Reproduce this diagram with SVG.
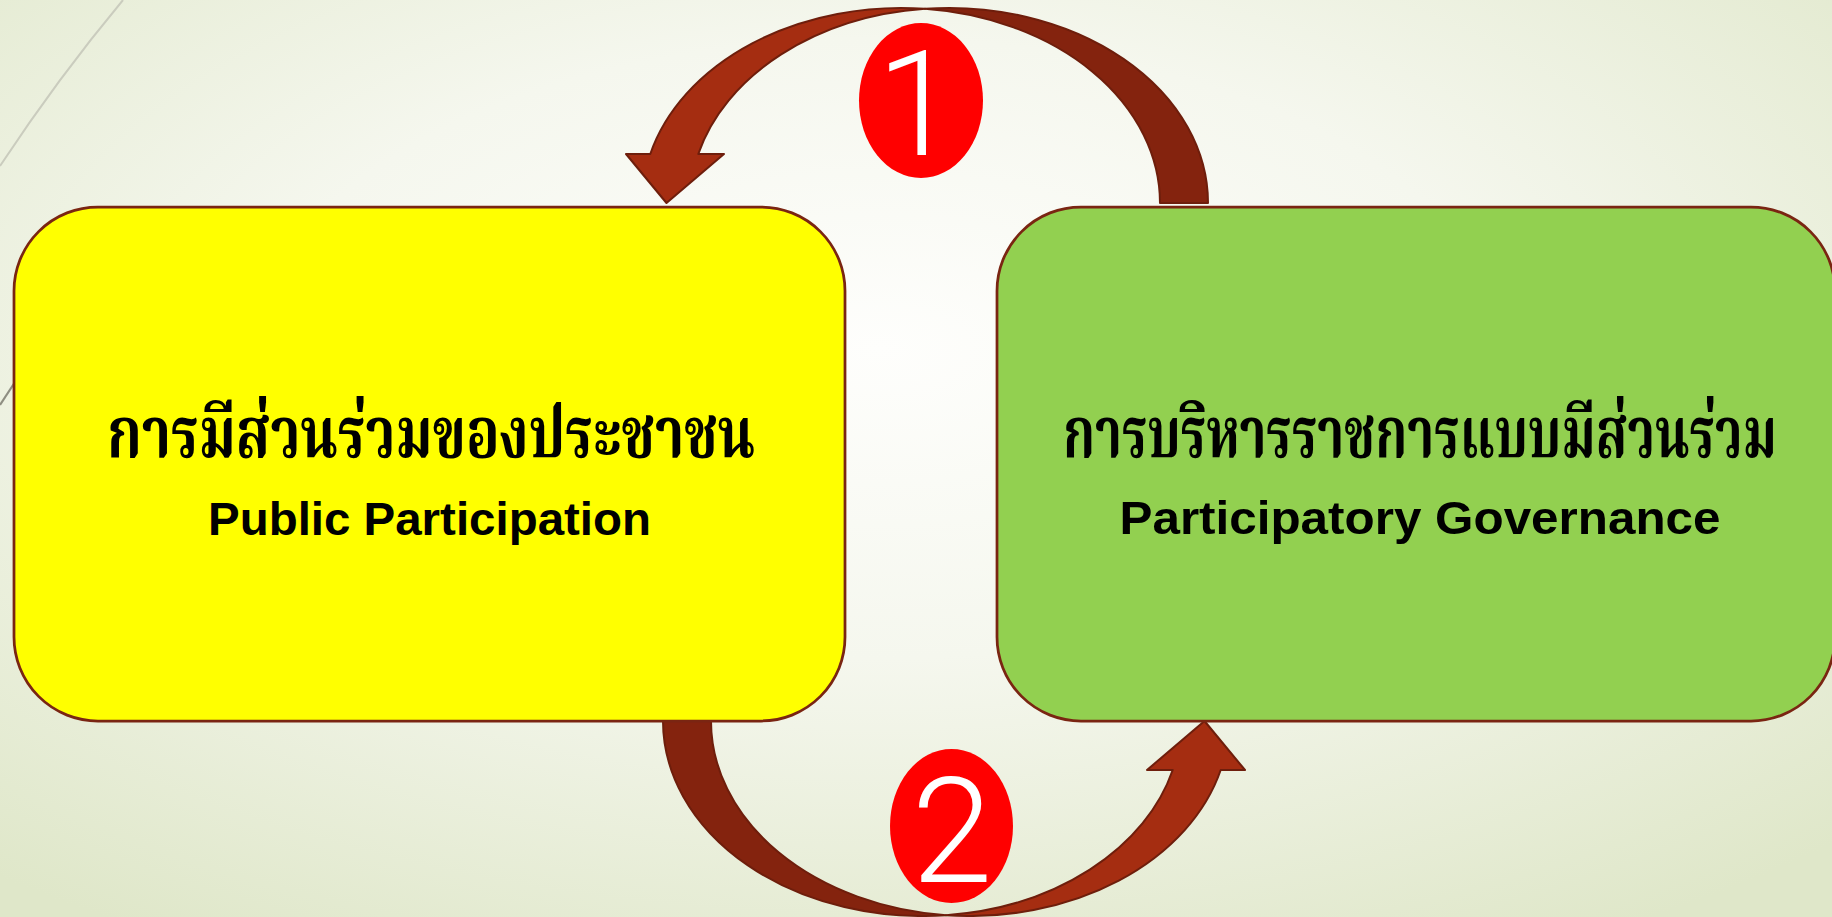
<svg xmlns="http://www.w3.org/2000/svg" width="1832" height="917" viewBox="0 0 1832 917">
  <defs>
    <radialGradient id="bg" cx="48%" cy="38%" r="75%" fx="48%" fy="38%">
      <stop offset="0" stop-color="#FEFEFC"/>
      <stop offset="0.45" stop-color="#F5F7EE"/>
      <stop offset="1" stop-color="#DFE7C9"/>
    </radialGradient>
    <style>
      .box { stroke: #7A2512; stroke-width: 2.75; }
      .th { font-family: "Noto Serif Thai", "Noto Sans Thai Looped", "Noto Sans Thai", "Noto Sans", "DejaVu Sans", sans-serif; font-weight: bold; font-size: 72px; fill: #000; text-anchor: middle; }
      .en { font-family: "Liberation Sans", Arial, sans-serif; font-weight: bold; font-size: 47px; fill: #000; text-anchor: middle; }
      .front { fill: #A52D11; stroke: #6E1E0C; stroke-width: 2; stroke-linejoin: round; }
      .back { fill: #84230E; stroke: #6E1E0C; stroke-width: 2; stroke-linejoin: round; }
      .badge { fill: #FF0000; }
      .num { font-family: Roboto, "Open Sans", sans-serif; font-weight: 300; font-size: 146px; fill: #FFFFFF; text-anchor: middle; }
    </style>
  </defs>

  <rect x="0" y="0" width="1832" height="917" fill="url(#bg)"/>
  <path d="M 123,0 Q 58,78 0,166" fill="none" stroke="#CACCBE" stroke-width="2"/>
  <path d="M 0,405 L 15,382" fill="none" stroke="#8E8E82" stroke-width="2.2"/>

  <g id="connectors">
    <g id="arrow-1">
      <path class="back" d="M 925,8.84 A 259 195 0 0 1 1208,203 L 1160,203 A 259 195 0 0 0 925,8.84 Z"/>
      <path class="front" d="M 626,154 L 650.3,154 A 259 195 0 0 1 925,8.84 A 259 195 0 0 0 698.3,154 L 724,154 L 666.5,203 Z"/>
    </g>
    <g id="arrow-2" transform="rotate(180 935.5 462)">
      <path class="back" d="M 925,8.84 A 259 195 0 0 1 1208,203 L 1160,203 A 259 195 0 0 0 925,8.84 Z"/>
      <path class="front" d="M 626,154 L 650.3,154 A 259 195 0 0 1 925,8.84 A 259 195 0 0 0 698.3,154 L 724,154 L 666.5,203 Z"/>
    </g>
  </g>

  <g id="badge-1">
    <ellipse class="badge" cx="921" cy="100.5" rx="62" ry="77.5"/>
    <text class="num" x="917" y="155">1</text>
  </g>
  <g id="badge-2">
    <ellipse class="badge" cx="951.5" cy="826" rx="61.5" ry="77"/>
    <text class="num" x="952" y="882">2</text>
  </g>

  <g id="node-public">
    <rect class="box" x="14" y="207" width="831" height="514" rx="84" ry="84" fill="#FFFF00"/>
    <text class="th" x="431" y="457" textLength="648" lengthAdjust="spacingAndGlyphs">การมีส่วนร่วมของประชาชน</text>
    <text class="en" x="429.5" y="535" textLength="443" lengthAdjust="spacingAndGlyphs">Public Participation</text>
  </g>

  <g id="node-governance">
    <rect class="box" x="997" y="207" width="838" height="514" rx="84" ry="84" fill="#92D050"/>
    <text class="th" x="1420" y="457" textLength="714" lengthAdjust="spacingAndGlyphs">การบริหารราชการแบบมีส่วนร่วม</text>
    <text class="en" x="1420" y="534" textLength="601" lengthAdjust="spacingAndGlyphs">Participatory Governance</text>
  </g>
</svg>
